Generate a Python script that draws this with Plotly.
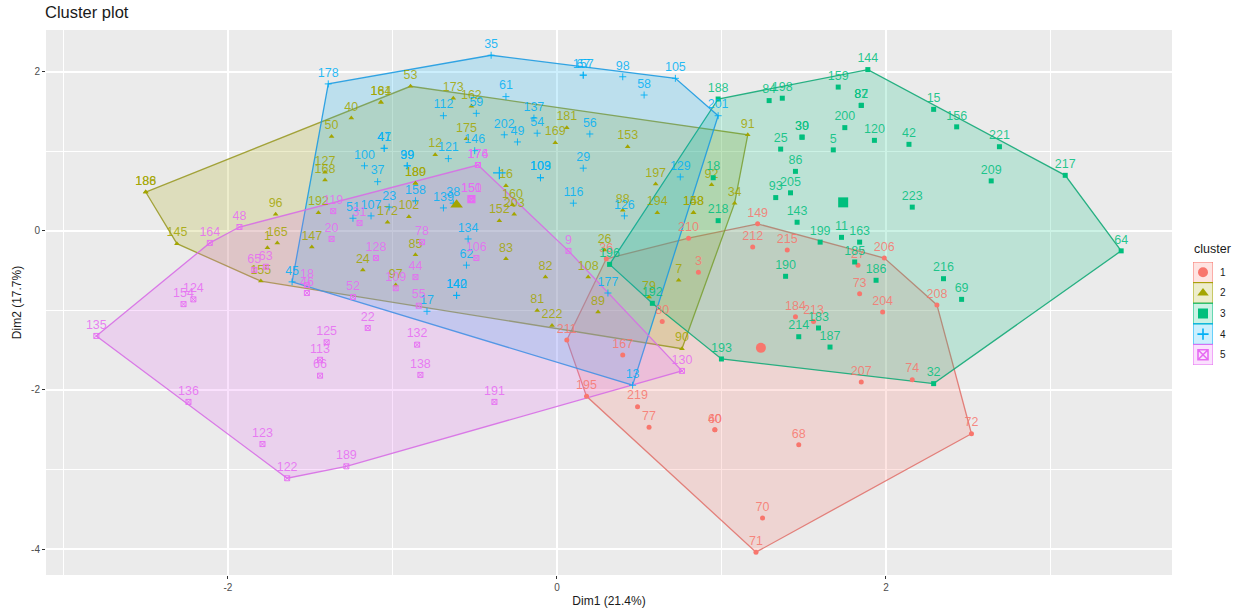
import plotly.graph_objects as go

COLORS = ["#F8766D", "#A3A500", "#00BF7D", "#00B0F6", "#E76BF3"]
TEXT_COLORS = ["rgba(248,118,109,0.85)", "rgba(163,165,0,0.85)", "rgba(0,191,125,0.85)",
               "rgba(0,176,246,0.85)", "rgba(231,107,243,0.85)"]
LINE_COLORS = ["rgba(225,110,105,0.85)", "rgba(150,150,30,0.85)", "rgba(20,170,120,0.9)",
               "rgba(30,155,225,0.9)", "rgba(215,110,230,0.9)"]
FILLS = ["rgba(248,118,109,0.2)", "rgba(163,165,0,0.2)", "rgba(0,191,125,0.2)",
         "rgba(0,176,246,0.2)", "rgba(231,107,243,0.2)"]
SYMBOLS = ["circle", "triangle-up", "square", "cross-thin", "square-x-open"]
CLUSTER_NAMES = ["1", "2", "3", "4", "5"]

labels_1 = ["149","212","215","210","3","206","27","73","204","208","72","74","207","213","184","68","70","71","60","40","77","219","195","211","167","80","36"]
x_1 = [1.22,1.19,1.40,0.80,0.86,1.99,1.83,1.84,1.98,2.31,2.52,2.16,1.85,1.56,1.45,1.47,1.25,1.21,0.96,0.96,0.56,0.49,0.18,0.06,0.40,0.64,0.30]
y_1 = [0.09,-0.20,-0.24,-0.09,-0.52,-0.34,-0.43,-0.79,-1.02,-0.93,-2.55,-1.87,-1.90,-1.14,-1.08,-2.69,-3.61,-4.04,-2.50,-2.50,-2.47,-2.21,-2.08,-1.37,-1.56,-1.14,-0.35]

labels_2 = ["186","188","145","155","96","165","1","147","40","50","53","184","161","127","168","192","12","172","102","85","24","97","180","189","173","162","175","16","160","203","152","83","82","81","222","169","181","153","197","194","88","148","158","92","91","34","7","26","108","89","90","79"]
x_2 = [-2.50,-2.50,-2.31,-1.80,-1.71,-1.70,-1.76,-1.49,-1.25,-1.37,-0.89,-1.07,-1.07,-1.41,-1.41,-1.45,-0.74,-1.03,-0.90,-0.86,-1.18,-0.98,-0.86,-0.86,-0.63,-0.52,-0.55,-0.31,-0.27,-0.26,-0.35,-0.31,-0.07,-0.12,-0.03,-0.01,0.06,0.43,0.60,0.61,0.40,0.83,0.83,0.94,1.16,1.08,0.74,0.29,0.19,0.25,0.76,0.56]
y_2 = [0.49,0.49,-0.16,-0.63,0.21,-0.15,-0.21,-0.20,1.42,1.19,1.82,1.62,1.62,0.74,0.64,0.23,0.96,0.11,0.18,-0.30,-0.49,-0.68,0.60,0.60,1.67,1.57,1.16,0.57,0.33,0.21,0.13,-0.35,-0.58,-1.00,-1.19,1.11,1.30,1.06,0.59,0.23,0.26,0.23,0.23,0.58,1.21,0.35,-0.62,-0.24,-0.58,-1.02,-1.48,-0.83]

labels_3 = ["188","84","198","159","144","82","87","200","120","5","42","15","156","221","209","217","64","223","11","163","199","185","186","216","69","32","187","183","214","193","25","30","39","86","93","205","143","190","218","18","196","192"]
x_3 = [0.98,1.29,1.37,1.71,1.89,1.85,1.85,1.75,1.93,1.68,2.14,2.29,2.43,2.69,2.64,3.09,3.43,2.16,1.73,1.84,1.60,1.81,1.94,2.35,2.46,2.29,1.66,1.59,1.47,1.00,1.36,1.49,1.49,1.45,1.33,1.42,1.46,1.39,0.98,0.95,0.32,0.58]
y_3 = [1.66,1.64,1.67,1.81,2.03,1.58,1.58,1.30,1.14,1.02,1.09,1.53,1.31,1.06,0.63,0.70,-0.25,0.30,-0.08,-0.14,-0.14,-0.39,-0.62,-0.60,-0.86,-1.92,-1.46,-1.22,-1.33,-1.61,1.03,1.18,1.18,0.75,0.42,0.48,0.11,-0.57,0.13,0.67,-0.42,-0.91]

labels_4 = ["178","35","67","157","98","105","58","201","61","59","112","137","54","202","49","56","121","146","29","103","109","116","126","129","47","41","100","37","99","39","158","23","107","51","139","38","45","17","142","140","62","134","177","13"]
x_4 = [-1.39,-0.40,0.16,0.16,0.40,0.72,0.53,0.98,-0.31,-0.49,-0.69,-0.14,-0.12,-0.32,-0.24,0.20,-0.66,-0.50,0.16,-0.10,-0.10,0.10,0.41,0.75,-1.05,-1.05,-1.17,-1.09,-0.91,-0.91,-0.86,-1.02,-1.13,-1.24,-0.69,-0.63,-1.61,-0.79,-0.61,-0.61,-0.55,-0.54,0.31,0.46]
y_4 = [1.85,2.21,1.96,1.96,1.94,1.92,1.71,1.45,1.69,1.48,1.45,1.42,1.23,1.21,1.12,1.22,0.91,1.01,0.79,0.67,0.67,0.35,0.19,0.68,1.04,1.04,0.82,0.62,0.82,0.82,0.38,0.30,0.19,0.16,0.29,0.35,-0.64,-1.01,-0.81,-0.81,-0.43,-0.10,-0.78,-1.94]

labels_5 = ["135","136","123","122","189","191","130","9","176","174","48","164","154","124","65","63","119","20","31","128","78","44","109","18","46","55","52","22","125","113","66","132","138","106","150","151"]
x_5 = [-2.80,-2.24,-1.79,-1.64,-1.28,-0.38,0.76,0.07,-0.48,-0.48,-1.93,-2.11,-2.27,-2.21,-1.84,-1.77,-1.36,-1.37,-1.20,-1.10,-0.82,-0.86,-0.98,-1.52,-1.52,-0.84,-1.24,-1.15,-1.40,-1.44,-1.44,-0.85,-0.83,-0.49,-0.52,-0.52]
y_5 = [-1.32,-2.15,-2.68,-3.11,-2.96,-2.15,-1.76,-0.25,0.83,0.83,0.05,-0.15,-0.92,-0.86,-0.49,-0.45,0.25,-0.10,0.10,-0.34,-0.14,-0.58,-0.72,-0.68,-0.78,-0.94,-0.83,-1.22,-1.40,-1.62,-1.82,-1.43,-1.81,-0.34,0.40,0.40]

center_x = [1.24, -0.61, 1.74, -0.35, -0.52]
center_y = [-1.47, 0.33, 0.36, 0.73, 0.40]
center_sizes = [10, 11, 10, 9, 7]

x_major = [-2, 0, 2]
x_major_text = ["-2", "0", "2"]
x_minor = [-3, -1, 1, 3]
y_major = [-4, -2, 0, 2]
y_major_text = ["-4", "-2", "0", "2"]
y_minor = [-3, -1, 1]

groups = [(labels_1, x_1, y_1), (labels_2, x_2, y_2), (labels_3, x_3, y_3),
          (labels_4, x_4, y_4), (labels_5, x_5, y_5)]


def hull(xs, ys):
    pts = sorted(set(zip(xs, ys)))
    def cross(o, a, b):
        return (a[0]-o[0])*(b[1]-o[1]) - (a[1]-o[1])*(b[0]-o[0])
    lower, upper = [], []
    for p in pts:
        while len(lower) >= 2 and cross(lower[-2], lower[-1], p) <= 0:
            lower.pop()
        lower.append(p)
    for p in reversed(pts):
        while len(upper) >= 2 and cross(upper[-2], upper[-1], p) <= 0:
            upper.pop()
        upper.append(p)
    h = lower[:-1] + upper[:-1]
    return h + h[:1]


def style(col, sym, size, lw=1.0):
    m = dict(color=col, size=size, symbol=sym)
    if sym in ("cross-thin", "square-x-open"):
        m["line"] = dict(color=col, width=lw)
    return m


FONT = "Liberation Sans"
W, H = 1238, 610
L, R, T, B = 46, 5, 30, 35
PW, PH = W - L - R, H - T - B

fig = go.Figure()

for (lab, xs, ys), lc, fill in zip(groups, LINE_COLORS, FILLS):
    h = hull(xs, ys)
    fig.add_trace(go.Scatter(x=[p[0] for p in h], y=[p[1] for p in h], mode="lines",
                             fill="toself", fillcolor=fill, line=dict(color=lc, width=1.3),
                             showlegend=False, hoverinfo="skip"))

for (lab, xs, ys), col, tc, sym in zip(groups, COLORS, TEXT_COLORS, SYMBOLS):
    size = {"cross-thin": 5, "square-x-open": 5}.get(sym, 5)
    fig.add_trace(go.Scatter(x=xs, y=ys, mode="markers+text", text=lab,
                             textposition="top center",
                             textfont=dict(family=FONT, size=12.5, color=tc),
                             marker=style(col, sym, size, 0.9), showlegend=False, hoverinfo="skip"))

for cx, cy, s, col, sym in zip(center_x, center_y, center_sizes, COLORS, SYMBOLS):
    fig.add_trace(go.Scatter(x=[cx], y=[cy], mode="markers", marker=style(col, sym, s, 1.2),
                             showlegend=False, hoverinfo="skip"))

# legend, drawn on its own little axes
leg_rows = [0.5, 1.5, 2.5, 3.5, 4.5]
leg_top = 262
key_h = 20.6
for i, (col, fill, sym, name) in enumerate(zip(COLORS, FILLS, SYMBOLS, CLUSTER_NAMES)):
    fig.add_shape(type="rect", xref="x2", yref="y2", x0=0, x1=1, y0=i, y1=i+1,
                  fillcolor=fill, line=dict(color=col, width=1), layer="below")
    fig.add_trace(go.Scatter(x=[0.5], y=[leg_rows[i]], xaxis="x2", yaxis="y2", mode="markers",
                             marker=style(col, sym, 10 if sym != "cross-thin" else 8, 1.6),
                             showlegend=False, hoverinfo="skip"))
    fig.add_annotation(xref="paper", yref="paper", x=(1223-L)/PW,
                       y=(575-(leg_top+key_h*leg_rows[i]))/PH, text=name, showarrow=False,
                       xanchor="center", yanchor="middle",
                       font=dict(family=FONT, size=10, color="#1a1a1a"))
fig.add_annotation(xref="paper", yref="paper", x=(1192-L)/PW, y=(575-249)/PH, text="cluster",
                   showarrow=False, xanchor="left", yanchor="middle",
                   font=dict(family=FONT, size=12.5, color="#1a1a1a"))

fig.update_layout(
    width=W, height=H, autosize=False,
    margin=dict(l=L, r=R, t=T, b=B, pad=0),
    paper_bgcolor="white", plot_bgcolor="white",
    font=dict(family=FONT),
    showlegend=False,
    title=dict(text="Cluster plot", x=45/W, xanchor="left", y=1-12/H, yanchor="middle",
               font=dict(family=FONT, size=16.5, color="#1a1a1a")),
    xaxis=dict(domain=[0, (1172-L)/PW], range=[-3.106, 3.739], showline=False, zeroline=False,
               tickvals=x_major, ticktext=x_major_text, ticks="outside", ticklen=3, tickwidth=1,
               tickcolor="#333333", tickfont=dict(family=FONT, size=10, color="#4D4D4D"),
               showgrid=True, gridcolor="white", gridwidth=1.6,
               minor=dict(tickvals=x_minor, showgrid=True, gridcolor="white", gridwidth=0.7, ticks=""),
               title=dict(text="Dim1 (21.4%)", standoff=4, font=dict(family=FONT, size=12, color="#1a1a1a"))),
    yaxis=dict(range=[-4.327, 2.528], showline=False, zeroline=False,
               tickvals=y_major, ticktext=y_major_text, ticks="outside", ticklen=3, tickwidth=1,
               tickcolor="#333333", tickfont=dict(family=FONT, size=10, color="#4D4D4D"),
               showgrid=True, gridcolor="white", gridwidth=1.6,
               minor=dict(tickvals=y_minor, showgrid=True, gridcolor="white", gridwidth=0.7, ticks=""),
               title=dict(text="Dim2 (17.7%)", standoff=6, font=dict(family=FONT, size=12, color="#1a1a1a"))),
    xaxis2=dict(domain=[(1193-L)/PW, (1213-L)/PW], range=[0, 1], anchor="y2",
                showgrid=False, zeroline=False, showticklabels=False, ticks=""),
    yaxis2=dict(domain=[(575-365)/PH, (575-262)/PH], range=[5, 0], anchor="x2",
                showgrid=False, zeroline=False, showticklabels=False, ticks=""),
)
# grey panel behind everything
fig.add_shape(type="rect", xref="x domain", yref="y domain", x0=0, x1=1, y0=0, y1=1,
              fillcolor="#EBEBEB", line=dict(width=0), layer="below")
fig.layout.shapes = (fig.layout.shapes[-1],) + tuple(fig.layout.shapes[:-1])

fig.write_html("out.html", config=dict(displayModeBar=False),
               post_script="document.body.style.margin='0';")
